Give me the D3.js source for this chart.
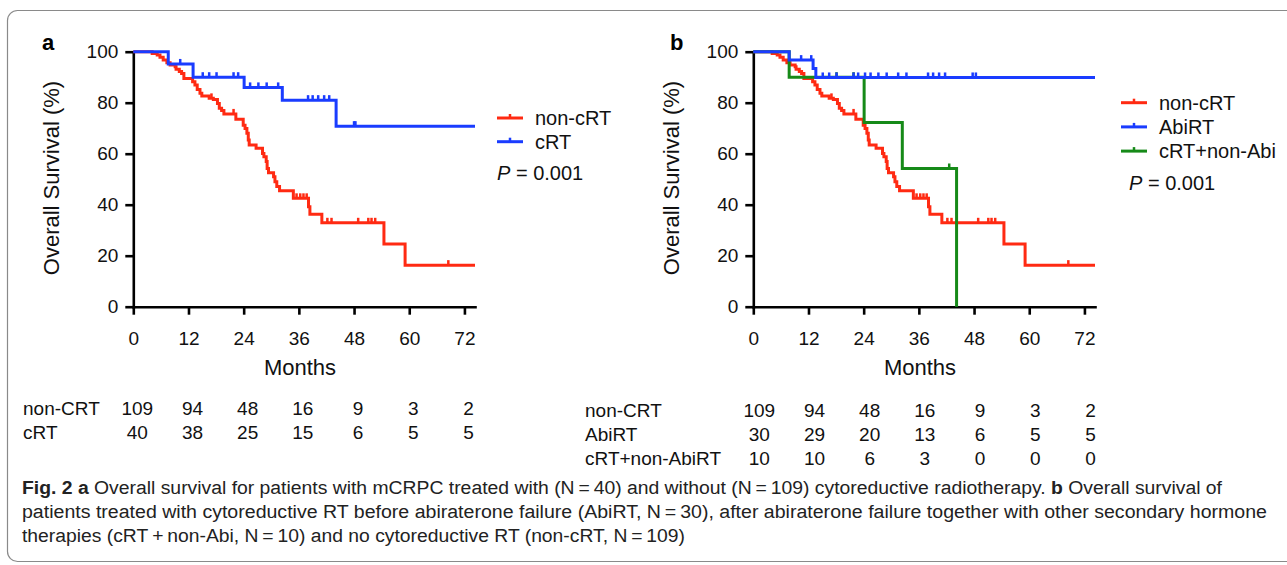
<!DOCTYPE html>
<html><head><meta charset="utf-8">
<script src="https://cdn.jsdelivr.net/npm/d3@7"></script>
<style>
body{margin:0;background:#fff}
svg{display:block}
text{font-family:"Liberation Sans",Arial,sans-serif}
</style>
</head><body>
<svg id="c" width="1287" height="565"></svg>
<script>
// ---------- data ----------
const monthTicks = [0, 12, 24, 36, 48, 60, 72];
const survivalTicks = [0, 20, 40, 60, 80, 100];

// events: [month, survival % after the drop]
const nonCrtEvents = [[4.1,99.3],[5.2,98.7],[5.8,97.8],[6.5,96.7],[7.3,95.7],[8.0,94.8],[9.1,94.1],[9.3,93.1],[10.0,92.2],[10.5,91.5],[11.0,89.5],[12.9,88.2],[13.4,86.9],[13.9,85.2],[14.5,83.7],[14.9,82.6],[16.5,81.7],[17.4,81.3],[18.3,79.7],[18.7,77.8],[19.2,76.9],[19.7,75.6],[22.3,73.5],[23.9,71.2],[24.3,69.9],[24.7,68.0],[25.0,65.4],[25.2,63.4],[26.7,62.1],[28.1,60.1],[28.4,58.8],[28.9,56.9],[29.1,54.2],[29.4,52.5],[30.5,51.0],[30.8,49.0],[31.2,47.1],[31.8,45.5],[34.8,42.5],[38.1,39.2],[38.4,36.3],[41.0,32.9],[54.5,24.6],[59.1,16.3]];
const nonCrtCensored = [17.0, 21.8, 35.5, 36.3, 37.0, 37.7, 42.2, 43.1, 48.9, 51.1, 51.8, 52.6, 68.5];

const crtEvents = [[7.6,95.2],[13.0,90.0],[24.1,86.0],[32.4,81.0],[44.1,70.8]];
const crtCensored = [10.2, 15.1, 16.5, 18.1, 21.8, 22.8, 25.4, 27.2, 29.0, 31.5, 38.0, 39.0, 40.2, 41.5, 42.6, 48.0, 48.3];

const abiRtEvents = [[7.8,96.7],[13.0,93.4],[13.6,89.9]];
const abiRtCensored = [10.4, 12.6, 15.1, 16.5, 18.1, 21.8, 22.8, 24.3, 25.5, 27.2, 29.0, 31.5, 33.3, 38.0, 39.1, 40.4, 41.7, 47.7, 48.4];

const crtNonAbiEvents = [[7.8,90.0],[24.1,72.2],[32.4,54.2],[44.2,0]];
const crtNonAbiCensored = [18.1, 21.8, 42.6];

const legendA = ["non-cRT", "cRT"];
const legendB = ["non-cRT", "AbiRT", "cRT+non-Abi"];
const pValue = "0.001";

const riskLabelsA = ["non-CRT", "cRT"];
const riskLabelsB = ["non-CRT", "AbiRT", "cRT+non-AbiRT"];
const riskNonCrt = [109, 94, 48, 16, 9, 3, 2];
const riskCrt = [40, 38, 25, 15, 6, 5, 5];
const riskAbiRt = [30, 29, 20, 13, 6, 5, 5];
const riskCrtNonAbi = [10, 10, 6, 3, 0, 0, 0];

// ---------- drawing ----------
const RED = "#ff2a12", BLUE = "#1a3cff", GREEN = "#168a18";
const svg = d3.select("#c");

// frame
svg.append("rect").attr("x", 7.5).attr("y", 10.5).attr("width", 1320).attr("height", 551)
  .attr("rx", 10).attr("fill", "none").attr("stroke", "#8a8a8a").attr("stroke-width", 1.2);

const x = d3.scaleLinear().domain([0, 74.3]).range([133.3, 475]);
const y = d3.scaleLinear().domain([0, 100]).range([306.7, 51.7]);
const END = 74.3;

function survAt(events, t) {
  let s = 100;
  for (const [et, es] of events) { if (et <= t) s = es; }
  return s;
}

function drawCurve(g, events, censored, color, ends) {
  const pts = [[0, 100], ...events];
  if (ends) pts.push([END, events[events.length - 1][1]]);
  const line = d3.line().x(d => x(d[0])).y(d => y(d[1])).curve(d3.curveStepAfter);
  g.append("path").attr("d", line(pts)).attr("fill", "none")
    .attr("stroke", color).attr("stroke-width", 3);
  g.selectAll(null).data(censored).enter().append("line")
    .attr("x1", d => x(d)).attr("x2", d => x(d))
    .attr("y1", d => y(survAt(events, d)) - 5).attr("y2", d => y(survAt(events, d)))
    .attr("stroke", color).attr("stroke-width", 2.5);
}

function drawAxes(g) {
  const xa = g.append("g").attr("transform", `translate(0,${y(0)})`)
    .call(d3.axisBottom(x).tickValues(monthTicks).tickSize(8).tickSizeOuter(0).tickPadding(17));
  const ya = g.append("g").attr("transform", `translate(${x(0)},0)`)
    .call(d3.axisLeft(y).tickValues(survivalTicks).tickSize(8).tickSizeOuter(0).tickPadding(7));
  [xa, ya].forEach(a => {
    a.attr("font-family", null).attr("font-size", null);
    a.selectAll(".domain").attr("stroke", "#000").attr("stroke-width", 2.6).attr("stroke-linecap", "square");
    a.selectAll(".tick line").attr("stroke", "#000").attr("stroke-width", 2.6);
    a.selectAll(".tick text").attr("font-size", 19).attr("fill", "#111");
  });
  g.append("text").attr("x", 300).attr("y", 375).attr("text-anchor", "middle")
    .attr("font-size", 22).attr("fill", "#111").text("Months");
  g.append("text").attr("transform", `translate(59,178) rotate(-90)`).attr("text-anchor", "middle")
    .attr("font-size", 22).attr("fill", "#111").text("Overall Survival (%)");
}

function drawLegend(g, names, colors, lx, ly, step, px, py) {
  names.forEach((n, i) => {
    const yy = ly + i * step;
    g.append("line").attr("x1", lx).attr("x2", lx + 26).attr("y1", yy).attr("y2", yy)
      .attr("stroke", colors[i]).attr("stroke-width", 3);
    g.append("line").attr("x1", lx + 13).attr("x2", lx + 13).attr("y1", yy - 4).attr("y2", yy)
      .attr("stroke", colors[i]).attr("stroke-width", 2.5);
    g.append("text").attr("x", lx + 38).attr("y", yy + 7).attr("font-size", 20).attr("fill", "#111").text(n);
  });
  const t = g.append("text").attr("x", px).attr("y", py).attr("font-size", 20).attr("fill", "#111");
  t.append("tspan").attr("font-style", "italic").text("P");
  t.append("tspan").text(" = " + pValue);
}

function drawRisk(labels, rows, labelX, baseY, step, offsetX, shift) {
  labels.forEach((lab, i) => {
    svg.append("text").attr("x", labelX).attr("y", baseY + i * step).attr("font-size", 19)
      .attr("fill", "#111").text(lab);
    svg.selectAll(null).data(rows[i]).enter().append("text")
      .attr("x", (d, j) => offsetX + x(monthTicks[j]) + shift)
      .attr("y", baseY + i * step).attr("text-anchor", "middle").attr("font-size", 19)
      .attr("fill", "#111").text(d => d);
  });
}

// Panel a
const ga = svg.append("g");
drawAxes(ga);
drawCurve(ga, nonCrtEvents, nonCrtCensored, RED, true);
drawCurve(ga, crtEvents, crtCensored, BLUE, true);
drawLegend(ga, legendA, [RED, BLUE], 497, 118, 23.7, 497, 180);
ga.append("text").attr("x", 42).attr("y", 50).attr("font-size", 22).attr("font-weight", "bold").text("a");

// Panel b
const gb = svg.append("g").attr("transform", "translate(620,0)");
drawAxes(gb);
drawCurve(gb, nonCrtEvents, nonCrtCensored, RED, true);
drawCurve(gb, crtNonAbiEvents, crtNonAbiCensored, GREEN, false);
drawCurve(gb, abiRtEvents, abiRtCensored, BLUE, true);
drawLegend(gb, legendB, [RED, BLUE, GREEN], 501, 102.7, 24.2, 509, 190);
gb.append("text").attr("x", 50).attr("y", 50).attr("font-size", 22).attr("font-weight", "bold").text("b");

// risk tables
drawRisk(riskLabelsA, [riskNonCrt, riskCrt], 23, 415, 24, 0, 4);
drawRisk(riskLabelsB, [riskNonCrt, riskAbiRt, riskCrtNonAbi], 585, 417, 24, 620, 6);

// caption
const capFont = '"Liberation Sans Narrow","DejaVu Sans Condensed","Roboto Condensed",sans-serif';
function capLine(yy, parts, len) {
  const t = svg.append("text").attr("x", 22).attr("y", yy).attr("font-size", 18)
    .attr("font-family", capFont).attr("fill", "#222")
    .attr("textLength", len).attr("lengthAdjust", "spacingAndGlyphs");
  parts.forEach(p => t.append("tspan").attr("font-weight", p[1] ? "bold" : null).text(p[0]));
}
capLine(494, [["Fig. 2", true], ["  ", false], ["a", true],
  [" Overall survival for patients with mCRPC treated with (N\u2009=\u200940) and without (N\u2009=\u2009109) cytoreductive radiotherapy. ", false],
  ["b", true], [" Overall survival of", false]], 1200);
capLine(518, [["patients treated with cytoreductive RT before abiraterone failure (AbiRT, N\u2009=\u200930), after abiraterone failure together with other secondary hormone", false]], 1245);
capLine(542, [["therapies (cRT\u2009+\u2009non-Abi, N\u2009=\u200910) and no cytoreductive RT (non-cRT, N\u2009=\u2009109)", false]], 663);
</script>
</body></html>
